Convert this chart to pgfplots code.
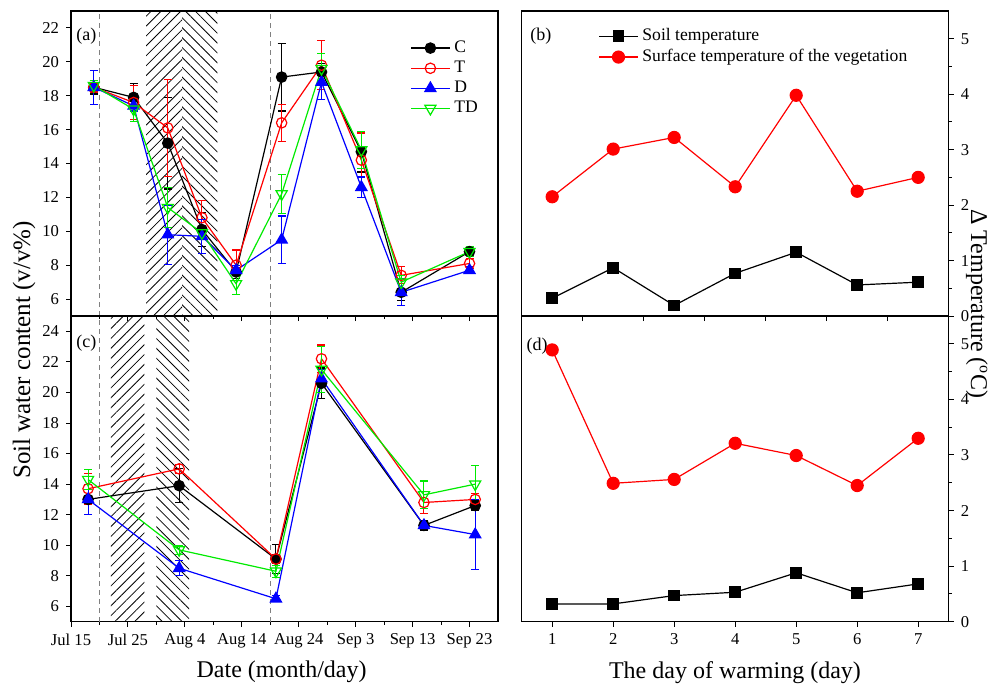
\documentclass[border=0pt]{standalone}
\usepackage{pgfplots}
\pgfplotsset{compat=1.18}
\usepackage{fontspec}
\setmainfont{Liberation Serif}
\usetikzlibrary{patterns.meta}

\definecolor{tdgreen}{RGB}{0,235,0}

\pgfplotsset{
  panel/.style={
    scale only axis, anchor=north west,
    width=213.5pt, height=152.5pt,
    axis line style={line width=0.6pt},
    tick style={line width=0.5pt, black},
    major tick length=2.5pt, minor tick length=1.5pt,
    tick align=outside,
    tick label style={font=\fontsize{8.3}{10}\selectfont},
    /pgf/number format/assume math mode=true,
    legend style={draw=none, fill=none, font=\fontsize{8.8}{10}\selectfont,
      row sep=-1.2pt},
    legend cell align=left,
    legend image code/.code={\draw[mark repeat=2,mark phase=2]
      plot coordinates {(0cm,0cm)(0.34cm,0cm)(0.68cm,0cm)};},
  },
  datepanel/.style={panel,
    xmin=0, xmax=75, ymin=5,
    xtick={0,10,...,70}, minor xtick={5,15,...,65},
    xtick pos=left, ytick pos=left,
  },
  daypanel/.style={panel,
    xmin=0.5, xmax=7.5, ymin=0, ymax=5.5,
    ytick={0,...,5}, minor ytick={0.5,1.5,...,4.5},
    xtick pos=left, ytick pos=right, yticklabel pos=right,
  },
  sC/.style={black, line width=0.6pt, mark=*, mark size=2.6pt},
  sT/.style={red, line width=0.6pt, mark=o, mark size=2.6pt},
  sD/.style={blue, line width=0.6pt, mark=triangle*, mark size=3.2pt},
  sTD/.style={tdgreen, line width=0.6pt, mark=triangle, mark size=3.2pt,
    mark options={rotate=180}},
  eb/.style={error bars/.cd, y dir=both, y explicit,
    error mark=-,
    error bar style={line width=0.5pt},
    error mark options={rotate=90, line width=0.6pt, mark size=2pt}},
  vline/.style={gray, dash pattern=on 2.5pt off 2pt, line width=0.5pt, forget plot},
}

\begin{document}
\begin{tikzpicture}
\useasboundingbox (0,0) rectangle (496.5pt,-343.5pt);

% (a) upper left
\begin{axis}[datepanel, at={(35.5pt,-5.5pt)}, ymax=23,
  ytick={6,8,...,22}, xticklabels={},
  legend style={at={(rel axis cs:0.78,0.93)}, anchor=north west}]
\fill[pattern={Lines[angle=45,distance=3.5pt,line width=0.4pt]}]
  (axis cs:13.2,5) rectangle (axis cs:19.5,23);
\fill[pattern={Lines[angle=-45,distance=3.5pt,line width=0.4pt]}]
  (axis cs:19.5,5) rectangle (axis cs:25.7,23);
\addplot[vline] coordinates {(5,5) (5,23)};
\addplot[vline] coordinates {(35,5) (35,23)};
\addplot[sC, eb] table[y error=e] {
x y e
4 18.5 0.4
11 17.9 0.8
17 15.2 2.7
23 10.1 1.0
29 7.6 0.4
37 19.1 2.0
44 19.4 0.5
51 14.7 1.2
58 6.4 0.5
70 8.8 0.3
};
\addplot[sT, eb] table[y error=e] {
x y e
4 18.5 0.3
11 17.6 1.0
17 16.1 2.85
23 10.8 1.0
29 8.0 0.9
37 16.4 1.1
44 19.8 1.45
51 14.2 1.6
58 7.4 0.5
70 8.1 0.3
};
\addplot[sD, eb] table[y error=e] {
x y e
4 18.5 1.0
11 17.4 0.3
17 9.8 1.75
23 9.7 1.0
29 7.7 0.3
37 9.5 1.4
44 18.8 1.0
51 12.6 0.6
58 6.4 0.8
70 7.7 0.2
};
\addplot[sTD, eb] table[y error=e] {
x y e
4 18.6 0.3
11 17.2 0.7
17 11.4 1.2
23 9.9 0.3
29 6.9 0.65
37 12.2 1.15
44 19.6 0.9
51 14.8 1.1
58 7.0 0.4
70 8.8 0.3
};
\legend{C, T, D, TD}
\node[font=\fontsize{9}{10}\selectfont] at (rel axis cs:0.036,0.918) {(a)};
\end{axis}

% (c) lower left
\begin{axis}[datepanel, at={(35.5pt,-158pt)}, height=152.85pt, ymax=25,
  ytick={6,8,...,24},
  xticklabels={Jul 15, Jul 25, Aug 4, Aug 14, Aug 24, Sep 3, Sep 13, Sep 23}]
\fill[pattern={Lines[angle=45,distance=3.5pt,line width=0.4pt]}]
  (axis cs:7,5) rectangle (axis cs:12.9,25);
\fill[pattern={Lines[angle=-45,distance=3.5pt,line width=0.4pt]}]
  (axis cs:15,5) rectangle (axis cs:20.75,25);
\addplot[vline] coordinates {(5,5) (5,25)};
\addplot[vline] coordinates {(35,5) (35,25)};
\addplot[sC, eb] table[y error=e] {
x y e
3 13.0 0.2
19 13.9 1.1
36 9.1 0.95
44 20.6 1.0
62 11.3 0.3
71 12.6 0.3
};
\addplot[sT, eb] table[y error=e] {
x y e
3 13.7 1.0
19 15.0 0.3
36 9.1 0.3
44 22.2 0.9
62 12.8 0.7
71 13.0 0.4
};
\addplot[sD, eb] table[y error=e] {
x y e
3 13.0 1.0
19 8.5 0.5
36 6.5 0.2
44 20.9 0.6
62 11.3 0.2
71 10.7 2.3
};
\addplot[sTD, eb] table[y error=e] {
x y e
3 14.3 0.65
19 9.7 0.3
36 8.3 0.4
44 21.5 1.5
62 13.3 0.9
71 14.0 1.2
};
\node[font=\fontsize{9}{10}\selectfont] at (rel axis cs:0.036,0.912) {(c)};
\end{axis}

% (b) upper right
\begin{axis}[daypanel, at={(260.85pt,-5.5pt)},
  xtick={1.5,2.5,...,6.5}, xticklabels={},
  legend style={at={(rel axis cs:0.165,0.97)}, anchor=north west}]
\addplot[black, line width=0.6pt, mark=square*, mark size=2.6pt] coordinates {
(1,0.32) (2,0.87) (3,0.19) (4,0.77) (5,1.15) (6,0.56) (7,0.61)};
\addplot[red, line width=0.6pt, mark=*, mark size=3pt] coordinates {
(1,2.15) (2,3.01) (3,3.22) (4,2.33) (5,3.98) (6,2.25) (7,2.50)};
\legend{Soil temperature, Surface temperature of the vegetation}
\node[font=\fontsize{9}{10}\selectfont] at (rel axis cs:0.045,0.918) {(b)};
\end{axis}

% (d) lower right
\begin{axis}[daypanel, at={(260.85pt,-158pt)}, height=152.85pt,
  xtick={1,...,7}]
\addplot[black, line width=0.6pt, mark=square*, mark size=2.6pt] coordinates {
(1,0.32) (2,0.32) (3,0.47) (4,0.53) (5,0.88) (6,0.52) (7,0.68)};
\addplot[red, line width=0.6pt, mark=*, mark size=3pt] coordinates {
(1,4.89) (2,2.49) (3,2.56) (4,3.21) (5,2.99) (6,2.45) (7,3.30)};
\node[font=\fontsize{9}{10}\selectfont] at (rel axis cs:0.036,0.9) {(d)};
\end{axis}

\node[rotate=90, font=\fontsize{12.5}{14}\selectfont] at (12pt,-175pt)
  {Soil water content (v/v\%)};
\node[rotate=-90, font=\fontsize{12}{14}\selectfont, inner sep=0pt] at (488.5pt,-152pt)
  {Δ Temperature (\textsuperscript{o}C)};
\node[font=\fontsize{12}{14}\selectfont] at (140.8pt,-336pt) {Date (month/day)};
\node[font=\fontsize{12}{14}\selectfont] at (367.5pt,-336.5pt) {The day of warming (day)};
\end{tikzpicture}
\end{document}
